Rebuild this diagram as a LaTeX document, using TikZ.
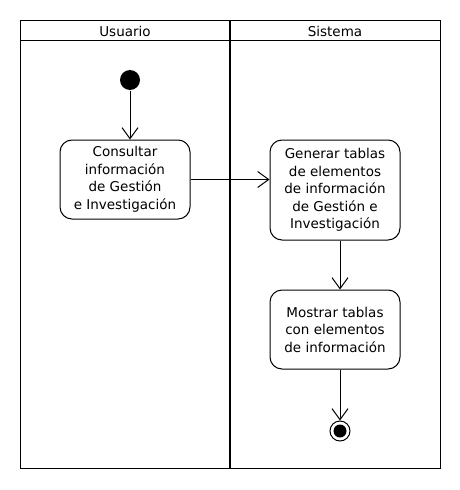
\documentclass[tikz,border=0pt]{standalone}
\usepackage{fontspec}
\setmainfont{DejaVu Sans}
\usetikzlibrary{positioning}
\usetikzlibrary{arrows.meta}

\tikzset{
  accion/.style={draw, rounded corners=12pt, minimum width=130pt, align=center, inner sep=0pt},
  flujo/.style={-{Straight Barb[length=11pt,width=16pt]}},
}

\begin{document}
\begin{tikzpicture}[x=1pt, y=-1pt, line width=1pt, font=\fontsize{13.5}{17.5}\selectfont]
  \useasboundingbox (0,0) rectangle (460,490);

  % swimlanes
  \draw (20,20) rectangle (440,468);
  \draw (20,40) -- (440,40);
  \draw[line width=2pt] (230,20) -- (230,468);
  \node (usuario) at (125,31) {Usuario};
  \node (sistema) at (335,31) {Sistema};

  % start and end
  \node[circle, fill, minimum size=20pt, inner sep=0] (inicio) at (130,80) {};
  \node[circle, draw, minimum size=20pt, inner sep=0,
    path picture={\fill (path picture bounding box.center) circle (6.5pt);}] (fin) at (340,431) {};

  % actions
  \node[accion, minimum height=79pt] (consultar) at (125,179.5)
    {Consultar\\información\\de Gestión\\e Investigación};
  \node[accion, minimum height=100pt] (generar) at (335,190)
    {Generar tablas\\de elementos\\de información\\de Gestión e\\Investigación};
  \node[accion, minimum height=79pt] (mostrar) at (335,329.5)
    {Mostrar tablas\\con elementos\\de información};

  \draw[flujo] (inicio) -- (inicio |- consultar.north);
  \draw[flujo] (consultar.east) -- (consultar.east -| generar.west);
  \draw[flujo] (generar.south -| fin) -- (mostrar.north -| fin);
  \draw[flujo] (mostrar.south -| fin) -- (fin);
\end{tikzpicture}
\end{document}
